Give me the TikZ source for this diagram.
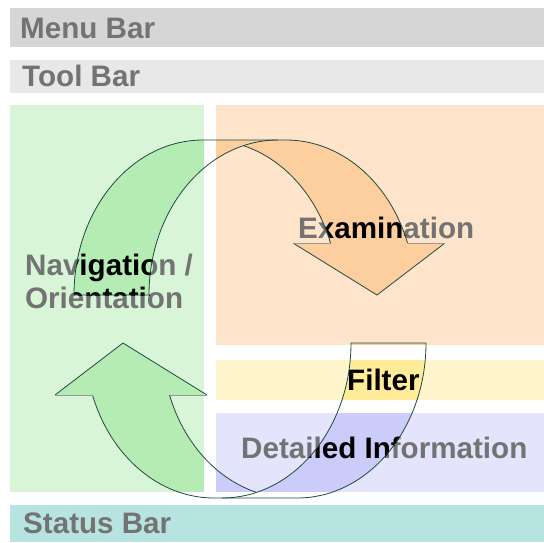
\documentclass[tikz,border=0pt]{standalone}
\usepackage{fontspec}
\setmainfont{Liberation Sans}

\definecolor{menugray}{HTML}{D6D6D6}
\definecolor{toolgray}{HTML}{E8E8E8}
\definecolor{statusteal}{HTML}{B7E3E0}
\definecolor{navlight}{HTML}{D8F5D8}
\definecolor{navdark}{HTML}{B4ECB4}
\definecolor{exlight}{HTML}{FDE4CB}
\definecolor{exdark}{HTML}{FDCF9F}
\definecolor{filtlight}{HTML}{FFF5CD}
\definecolor{filtdark}{HTML}{FFEB98}
\definecolor{infolight}{HTML}{E4E4FC}
\definecolor{infodark}{HTML}{CCCCFA}
\definecolor{labelgray}{HTML}{737373}
\definecolor{rimcol}{HTML}{1E4A40}

\tikzset{
  lbl/.style={anchor=base west, inner sep=0pt, font=\bfseries\fontsize{29.6}{33}\selectfont},
  rim/.style={draw=rimcol, line width=0.8pt},
  headbase/.style={draw=black!40, line width=0.8pt}
}

\newcommand{\panes}[4]{
  \fill[#1] (10,105) rectangle (204,492);
  \fill[#2] (216,105) rectangle (544,345);
  \fill[#3] (216,360) rectangle (544,400);
  \fill[#4] (216,413) rectangle (544,492);
}
\newcommand{\panelabels}[1]{
  \node[lbl,text=#1] (nav) at (25,275) {Navigation /};
  \node[lbl,text=#1] (orient) at (25,308) {Orientation};
  \node[lbl,text=#1] (exam) at (298,238) {Examination};
  \node[lbl,text=#1] (filter) at (347,390) {Filter};
  \node[lbl,text=#1] (detail) at (241,458) {Detailed Information};
}
% back band and front band of the curved arrow
\newcommand{\cyclearrow}{(74,295) arc[start angle=180, end angle=90, x radius=129pt, y radius=155pt]
  -- (278,140) arc[start angle=90, end angle=180, x radius=129pt, y radius=155pt] -- cycle
  (209,140) -- (286,140) arc[start angle=90, end angle=19.6, x radius=129pt, y radius=155pt]
  -- (445,243) -- (377,295) -- (293,243) -- (330.5,243)
  arc[start angle=19.6, end angle=90, x radius=129pt, y radius=155pt] -- cycle}
\newcommand{\cycleoutline}{
  \draw[rim] (74,295) arc[start angle=180, end angle=90, x radius=129pt, y radius=155pt]
    -- (286,140) arc[start angle=90, end angle=19.6, x radius=129pt, y radius=155pt];
  \draw[rim] (330.5,243) arc[start angle=19.6, end angle=74.5, x radius=129pt, y radius=155pt];
  \draw[rim] (74,295) -- (149,295) arc[start angle=180, end angle=90, x radius=129pt, y radius=155pt];
  \draw[rim] (445,243) -- (377,295) -- (293,243);
  \draw[headbase] (407.5,243) -- (445,243) (293,243) -- (330.5,243);
}

\begin{document}
\begin{tikzpicture}[x=1pt,y=-1pt]
\useasboundingbox (0,0) rectangle (544,542);

\fill[menugray] (10,8) rectangle (544,47);
\fill[toolgray] (10,60) rectangle (544,93);
\fill[statusteal] (10,505) rectangle (544,542);
\node[lbl,text=labelgray] (menu) at (20,38) {Menu Bar};
\node[lbl,text=labelgray] (tool) at (22,86) {Tool Bar};
\node[lbl,text=labelgray] (status) at (23,533) {Status Bar};

\panes{navlight}{exlight}{filtlight}{infolight}
\panelabels{labelgray}

% what lies under the two arrows shows darker
\begin{scope}
  \clip \cyclearrow;
  \panes{navdark}{exdark}{filtdark}{infodark}
  \panelabels{black}
\end{scope}
\begin{scope}
  \clip[rotate around={180:(250,319)}] \cyclearrow;
  \panes{navdark}{exdark}{filtdark}{infodark}
  \panelabels{black}
\end{scope}

\cycleoutline
\begin{scope}[rotate around={180:(250,319)}]
  \cycleoutline
\end{scope}

\end{tikzpicture}
\end{document}
